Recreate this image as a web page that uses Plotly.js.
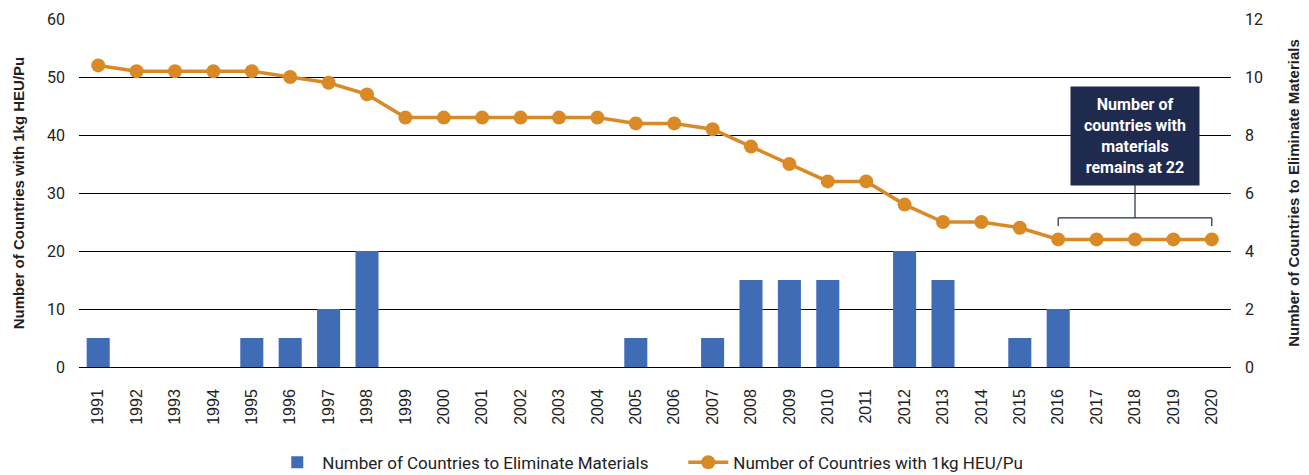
<!DOCTYPE html>
<html>
<head>
<meta charset="utf-8">
<script src="https://cdn.plot.ly/plotly-3.0.1.min.js"></script>
<style>
  html, body { margin: 0; padding: 0; background: #fff; }
  #chart { width: 1309px; height: 475px; }
</style>
</head>
<body>
<div id="chart"></div>
<script>
const years = ['1991','1992','1993','1994','1995','1996','1997','1998','1999','2000',
  '2001','2002','2003','2004','2005','2006','2007','2008','2009','2010',
  '2011','2012','2013','2014','2015','2016','2017','2018','2019','2020'];

// Countries that eliminated materials in each year (right axis)
const eliminated = [1,0,0,0,1,1,2,4,0,0, 0,0,0,0,1,0,1,3,3,3, 0,4,3,0,1,2,0,0,0,0];

// Countries holding at least 1kg HEU/Pu (left axis)
const holding = [52,51,51,51,51,50,49,47,43,43, 43,43,43,43,42,42,41,38,35,32, 32,28,25,25,24,22,22,22,22,22];

const barColor = '#3f6cb5';
const lineColor = '#d98a26';
const noteColor = '#1f2a4f';
const sans = '"Liberation Sans", Arial, sans-serif';
const roboto = 'Roboto, "Open Sans", sans-serif';

const traces = [
  {
    type: 'bar', name: 'Number of Countries to Eliminate Materials',
    x: years, y: eliminated, yaxis: 'y2',
    marker: { color: barColor }, width: 0.6
  },
  {
    type: 'scatter', mode: 'lines+markers', name: 'Number of Countries with 1kg HEU/Pu',
    x: years, y: holding, yaxis: 'y',
    line: { color: lineColor, width: 3.5 },
    marker: { color: lineColor, size: 14 }
  }
];

// Bracket spanning the flat tail of the line (2016–2020), tied to the note box
const bx0 = years.indexOf('2016'), bx1 = years.indexOf('2020'), bmid = years.indexOf('2018');
const shapeLine = { color: noteColor, width: 1.2 };
const shapes = [
  { type: 'line', xref: 'x', yref: 'y', x0: bx0, x1: bx1, y0: 25.7, y1: 25.7, line: shapeLine },
  { type: 'line', xref: 'x', yref: 'y', x0: bx0, x1: bx0, y0: 25.7, y1: 24.3, line: shapeLine },
  { type: 'line', xref: 'x', yref: 'y', x0: bx1, x1: bx1, y0: 25.7, y1: 24.3, line: shapeLine },
  { type: 'line', xref: 'x', yref: 'y', x0: bmid, x1: bmid, y0: 25.7, y1: 31.5, line: shapeLine }
];

const layout = {
  width: 1309, height: 475,
  margin: { l: 79, r: 78, t: 19, b: 108, autoexpand: false },
  paper_bgcolor: '#fff', plot_bgcolor: '#fff',
  font: { family: sans, color: '#222', size: 15 },
  xaxis: {
    type: 'category', tickangle: -90, range: [-0.5, years.length - 0.5],
    tickfont: { family: sans, size: 16, color: '#222' },
    showgrid: false, showline: false, ticks: '', ticklen: 0, automargin: false,
    ticklabelstandoff: 18
  },
  yaxis: {
    range: [0, 60], tickvals: [0,10,20,30,40,50,60],
    showgrid: true, gridcolor: '#000', gridwidth: 1,
    zeroline: true, zerolinecolor: '#000', zerolinewidth: 1,
    tickfont: { family: roboto, size: 16, color: '#222' }, ticks: '', ticklen: 0,
    ticklabelstandoff: 13, automargin: false,
    title: { text: '<b>Number of Countries with 1kg HEU/Pu</b>', font: { family: sans, size: 15, color: '#222' }, standoff: 18 }
  },
  yaxis2: {
    overlaying: 'y', side: 'right',
    range: [0, 12], tickvals: [0,2,4,6,8,10,12],
    showgrid: false, zeroline: false,
    tickfont: { family: roboto, size: 16, color: '#222' }, ticks: '', ticklen: 0,
    ticklabelstandoff: 13, automargin: false,
    title: { text: '<b>Number of Countries to Eliminate Materials</b>', font: { family: sans, size: 15, color: '#222' }, standoff: 26 }
  },
  legend: {
    orientation: 'h', x: 0.208, xanchor: 'left', xref: 'container',
    y: 0.026, yanchor: 'middle', yref: 'container',
    font: { family: roboto, size: 17, color: '#222' }, traceorder: 'normal', itemwidth: 40,
    entrywidth: 356, entrywidthmode: 'pixels'
  },
  shapes: shapes,
  annotations: [
    {
      xref: 'x', yref: 'y', x: bmid, y: 39.8,
      text: '<b>Number of<br>countries with<br>materials<br>remains at 22</b>',
      showarrow: false, align: 'center',
      font: { family: roboto, size: 16, color: '#fff' },
      bgcolor: noteColor, width: 122, height: 92, borderpad: 3
    }
  ]
};

Plotly.newPlot('chart', traces, layout, { displayModeBar: false, staticPlot: true });
</script>
</body>
</html>
